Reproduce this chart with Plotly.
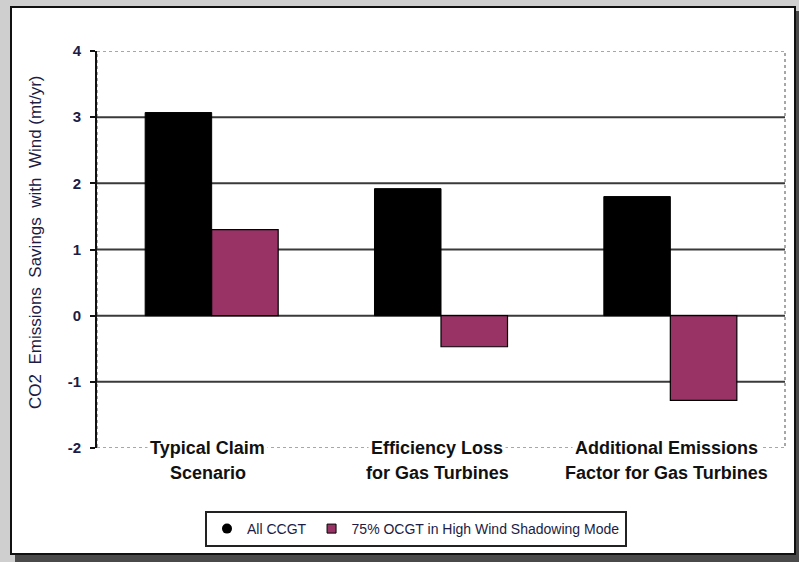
import plotly.graph_objects as go

# Scenario categories (two-line labels) and CO2 savings per generation mix
categories = ["Typical Claim Scenario", "Efficiency Loss for Gas Turbines",
              "Additional Emissions Factor for Gas Turbines"]
label_line1 = ["Typical Claim", "Efficiency Loss", "Additional Emissions"]
label_line2 = ["Scenario", "for Gas Turbines", "Factor for Gas Turbines"]
all_ccgt = [3.07, 1.92, 1.80]
ocgt_75 = [1.30, -0.47, -1.28]
series_names = ["All CCGT", "75% OCGT in High Wind Shadowing Mode"]
y_ticks = [-2, -1, 0, 1, 2, 3, 4]
y_tick_text = ["-2", "-1", "0", "1", "2", "3", "4"]
grid_vals = [-1, 0, 1, 2, 3]

BLACK = "#000000"
PLUM = "#993366"
TEXT = "#1c1c44"

W, H = 799, 562
L, R, T, B = 97, 14, 51, 114
pw, ph = W - L - R, H - T - B


def px_x(px):
    return (px - L) / pw


def px_y(py):
    return (H - B - py) / ph


fig = go.Figure()
fig.add_trace(go.Bar(x=categories, y=all_ccgt, name=series_names[0],
                     marker=dict(color=BLACK, line=dict(color=BLACK, width=1)),
                     showlegend=False))
fig.add_trace(go.Bar(x=categories, y=ocgt_75, name=series_names[1],
                     marker=dict(color=PLUM, line=dict(color=BLACK, width=1.2)),
                     showlegend=False))

# legend entries
fig.add_trace(go.Scatter(x=[None], y=[None], mode="markers", name=series_names[0],
                         marker=dict(symbol="circle", size=10, color=BLACK)))
fig.add_trace(go.Scatter(x=[None], y=[None], mode="markers", name=series_names[1],
                         marker=dict(symbol="square", size=9, color=PLUM,
                                     line=dict(color=BLACK, width=1))))

shapes = []
# frame: shadow, then white card with black border
shapes.append(dict(type="rect", xref="paper", yref="paper", layer="below",
                   x0=px_x(15), x1=px_x(W + 5), y0=px_y(11), y1=px_y(H + 5),
                   fillcolor="#4a4a4a", line=dict(width=0)))
shapes.append(dict(type="rect", xref="paper", yref="paper", layer="below",
                   x0=px_x(11), x1=px_x(795), y0=px_y(7), y1=px_y(554),
                   fillcolor="white", line=dict(color="#111111", width=2)))
# plot area border (dotted)
shapes.append(dict(type="rect", xref="paper", yref="y", layer="below",
                   x0=0, x1=1, y0=y_ticks[0], y1=y_ticks[-1],
                   line=dict(color="#8a8a8a", width=1.5, dash="dot")))
# horizontal gridlines
for v in grid_vals:
    shapes.append(dict(type="line", xref="paper", yref="y", layer="below",
                       x0=0, x1=1, y0=v, y1=v,
                       line=dict(color="#3a3a3a", width=2)))

cat_font = dict(family="Liberation Sans, Arial", size=18, color="#111111",
                weight="bold")
annotations = []
for cat, l1, l2 in zip(categories, label_line1, label_line2):
    annotations.append(dict(x=cat, y=y_ticks[0], xref="x", yref="y", text=l1,
                            showarrow=False, yanchor="middle", bgcolor="white",
                            borderpad=2, xshift=-4, font=cat_font))
    annotations.append(dict(x=cat, y=y_ticks[0], xref="x", yref="y", text=l2,
                            showarrow=False, yanchor="middle", yshift=-25,
                            xshift=-4, font=cat_font))
annotations.append(dict(x=px_x(35), y=px_y(243), xref="paper", yref="paper",
                        text="CO2  Emissions  Savings  with  Wind (mt/yr)",
                        textangle=-90, showarrow=False,
                        xanchor="center", yanchor="middle",
                        font=dict(family="Liberation Sans, Arial", size=17,
                                  color=TEXT)))

fig.update_layout(
    width=W, height=H,
    margin=dict(l=L, r=R, t=T, b=B),
    paper_bgcolor="#cfcfcf",
    plot_bgcolor="rgba(0,0,0,0)",
    barmode="group", bargap=0.42, bargroupgap=0,
    shapes=shapes, annotations=annotations,
    font=dict(family="Liberation Sans, Arial", color=TEXT),
    legend=dict(orientation="h", x=px_x(416), y=px_y(511),
                xanchor="center", yanchor="top",
                bgcolor="white", bordercolor="#222222", borderwidth=2,
                font=dict(family="Liberation Sans, Arial", size=14, color=TEXT),
                itemwidth=30, traceorder="normal"),
    xaxis=dict(showticklabels=False, showline=False, showgrid=False,
               zeroline=False, ticks=""),
    yaxis=dict(range=[y_ticks[0], y_ticks[-1]], tickvals=y_ticks,
               ticktext=y_tick_text,
               showgrid=False, zeroline=False,
               showline=True, linecolor="#111111", linewidth=2,
               ticks="outside", ticklen=5, tickwidth=2, tickcolor="#111111",
               ticklabelstandoff=6,
               tickfont=dict(family="Liberation Sans, Arial", size=15,
                             color=TEXT, weight="bold")),
)

fig.write_html("out.html")
